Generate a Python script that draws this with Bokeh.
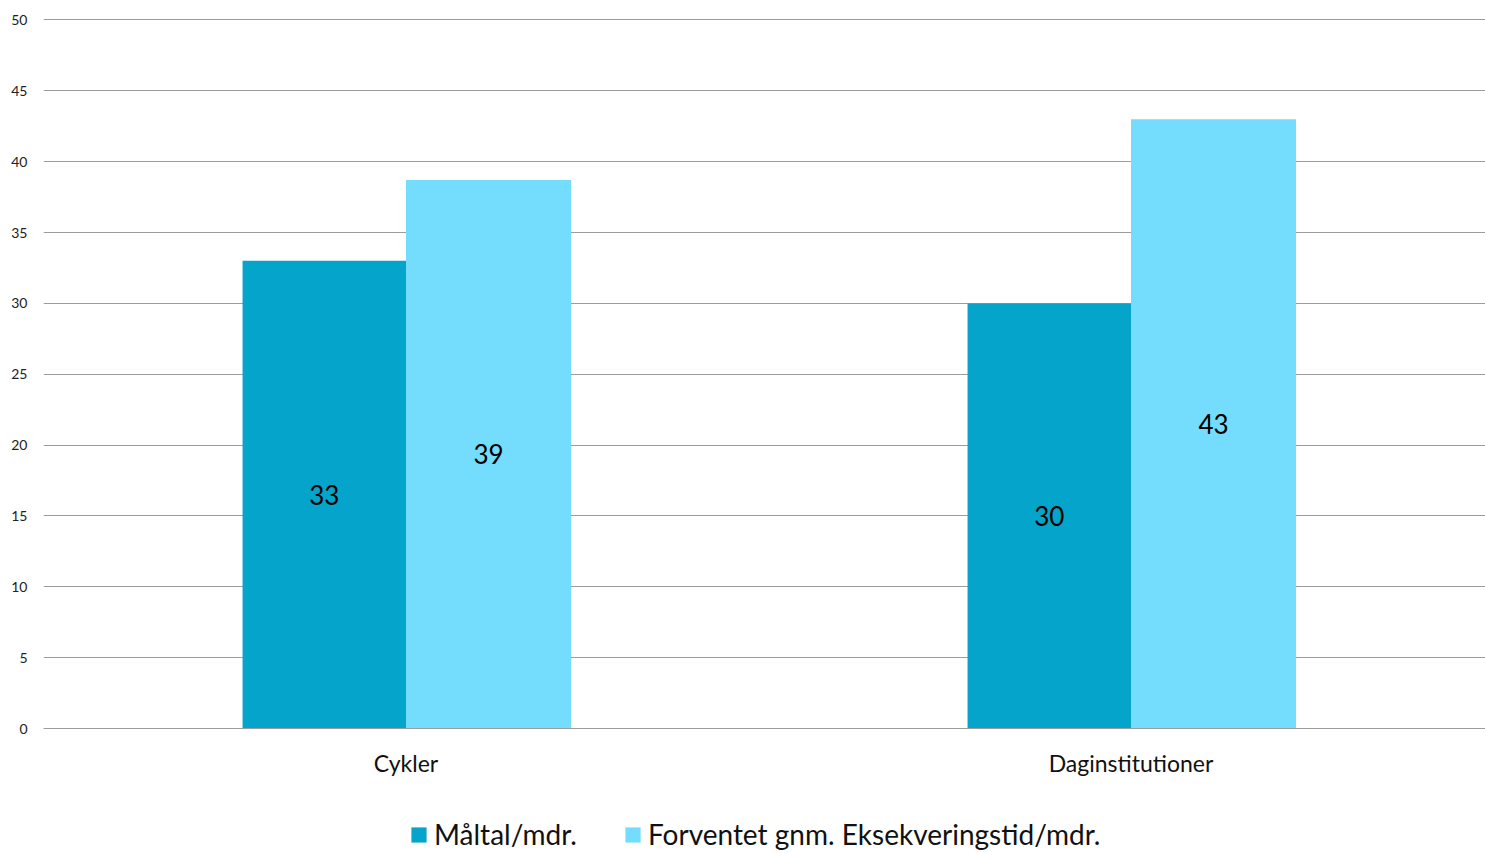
from bokeh.plotting import figure
from bokeh.models import ColumnDataSource, Range1d, FactorRange, Legend, LegendItem, FixedTicker
from bokeh.transform import dodge
from bokeh.core.properties import value
from bokeh.embed import file_html
from bokeh.resources import INLINE

categories = ["Cykler", "Daginstitutioner"]
maaltal = [33, 30]
forventet = [38.7, 43]
series_names = ["Måltal/mdr.", "Forventet gnm. Eksekveringstid/mdr."]
y_ticks = [0, 5, 10, 15, 20, 25, 30, 35, 40, 45, 50]

FONT = "Lato"
DARK = "#05A4CA"
LIGHT = "#74DCFC"

src = ColumnDataSource(dict(
    cat=categories,
    m=maaltal,
    f=forventet,
    m_half=[v / 2 for v in maaltal],
    f_half=[v / 2 for v in forventet],
    m_lbl=[str(round(v)) for v in maaltal],
    f_lbl=[str(round(v)) for v in forventet],
))

# frame reaches the bottom of the window; value 0 sits 125px above it (room for labels + legend)
p = figure(x_range=FactorRange(*categories, range_padding=0), y_range=Range1d(-8.815, 50.1),
           width=1485, height=853, output_backend="svg", toolbar_location=None,
           min_border_left=43, min_border_right=0, min_border_top=18, min_border_bottom=0)
p.frame_width = 1450
p.frame_height = 835

DX_M, W_M = -0.1127, 0.2255
DX_F, W_F = 0.1138, 0.2276

r1 = p.vbar(x=dodge("cat", DX_M, range=p.x_range), top="m", width=W_M, source=src,
            fill_color=DARK, line_color=None)
r2 = p.vbar(x=dodge("cat", DX_F, range=p.x_range), top="f", width=W_F, source=src,
            fill_color=LIGHT, line_color=None)

p.text(x=dodge("cat", DX_M, range=p.x_range), y="m_half", text="m_lbl", source=src,
       text_align="center", text_baseline="middle", text_font=value(FONT),
       text_font_size="26px", text_color="black")
p.text(x=dodge("cat", DX_F, range=p.x_range), y="f_half", text="f_lbl", source=src,
       text_align="center", text_baseline="middle", text_font=value(FONT),
       text_font_size="26px", text_color="black")

p.outline_line_color = None
p.xgrid.grid_line_color = None
p.ygrid.ticker = FixedTicker(ticks=y_ticks)
p.ygrid.grid_line_color = "#9c9c9c"
p.ygrid.grid_line_width = 1
p.yaxis.ticker = FixedTicker(ticks=y_ticks)
p.yaxis.axis_line_color = None
p.yaxis.major_tick_line_color = None
p.yaxis.minor_tick_line_color = None
p.yaxis.major_label_text_font = FONT
p.yaxis.major_label_text_font_size = "14px"
p.yaxis.major_label_text_color = "#222222"
p.yaxis.major_label_standoff = 10

p.xaxis.fixed_location = 0
p.xaxis.axis_line_color = "#9c9c9c"
p.xaxis.major_tick_line_color = None
p.xaxis.minor_tick_line_color = None
p.xaxis.major_label_text_font = FONT
p.xaxis.major_label_text_font_size = "23px"
p.xaxis.major_label_text_color = "#111111"
p.xaxis.major_label_standoff = 14

legend = Legend(items=[LegendItem(label=series_names[0], renderers=[r1]),
                       LegendItem(label=series_names[1], renderers=[r2])],
                orientation="horizontal", location=(366, 2),
                label_text_font=FONT, label_text_font_size="28px", label_text_color="#111111",
                glyph_width=19, glyph_height=19, spacing=46, label_standoff=6,
                border_line_color=None, background_fill_alpha=0,
                margin=0, padding=0)
p.add_layout(legend, "center")

open("out.html", "w").write(file_html(p, INLINE))
